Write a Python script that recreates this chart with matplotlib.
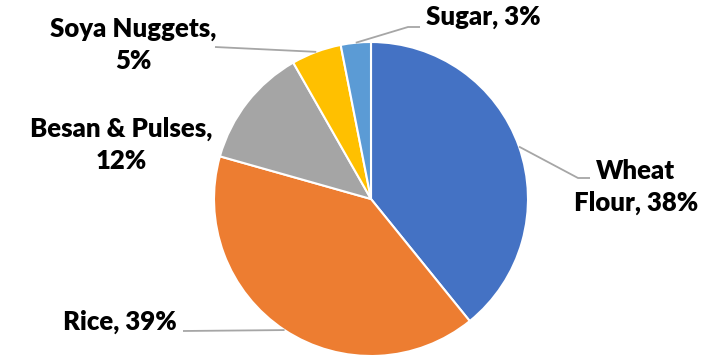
import numpy as np
import matplotlib.pyplot as plt

# monthly ration share by item
items = ['Wheat Flour', 'Rice', 'Besan & Pulses', 'Soya Nuggets', 'Sugar']
shares = [38, 39, 12, 5, 3]
colors = ['#4472C4', '#ED7D31', '#A5A5A5', '#FFC000', '#5B9BD5']

W, H = 717, 361
cx, cy, R = 371, H - 199, 157

# label text, label centre (px from top-left) and leader elbow (None = no leader)
label_text = ['Wheat\nFlour, 38%', 'Rice, 39%', 'Besan & Pulses,\n12%',
              'Soya Nuggets,\n5%', 'Sugar, 3%']
label_pos = [(636, 187), (120, 322), (121, 145), (133, 45), (483, 17)]
leader_pts = [[(578, 178), (590, 178)], [(183, 331)], None,
              [(215, 47)], [(408, 27), (420, 27)]]

plt.rcParams['font.family'] = ['Lato', 'DejaVu Sans']
fig = plt.figure(figsize=(W / 100, H / 100), dpi=100)
ax = fig.add_axes([0, 0, 1, 1])

wedges, _ = ax.pie(shares, colors=colors, startangle=90, counterclock=False,
                   center=(cx, cy), radius=R,
                   wedgeprops=dict(edgecolor='white', linewidth=1.5))

# pie() resets the view, so pin the pixel-sized limits afterwards
ax.set_xlim(0, W)
ax.set_ylim(0, H)
ax.set_aspect('equal')
ax.axis('off')

for w, txt, (lx, ly), pts in zip(wedges, label_text, label_pos, leader_pts):
    if pts is not None:
        mid = np.deg2rad((w.theta1 + w.theta2) / 2)
        ex, ey = cx + R * np.cos(mid), cy + R * np.sin(mid)
        xs = [ex] + [p[0] for p in pts]
        ys = [ey] + [H - p[1] for p in pts]
        ax.plot(xs, ys, color='#A6A6A6', lw=1.3, solid_capstyle='butt')
    ax.text(lx, H - ly, txt, ha='center', va='center', multialignment='center',
            fontsize=18.5, fontweight='heavy', color='black', linespacing=1.4)

fig.savefig('out.png', dpi=100)
